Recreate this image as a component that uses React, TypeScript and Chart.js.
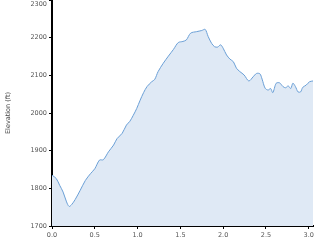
import React, { useEffect, useRef } from "react";
import { Chart, registerables } from "chart.js";

Chart.register(...registerables);

const distance = [
  0.0, 0.05, 0.09, 0.13, 0.17, 0.2, 0.23, 0.27, 0.33, 0.39, 0.45, 0.5, 0.555, 0.6, 0.66, 0.72, 0.76, 0.82, 0.87, 0.91,
  0.95, 0.99, 1.03, 1.07, 1.11, 1.165, 1.2, 1.24, 1.3, 1.36, 1.42, 1.475, 1.53, 1.57, 1.62, 1.69, 1.75, 1.79, 1.825,
  1.865, 1.9, 1.935, 1.97, 2.0, 2.04, 2.08, 2.12, 2.155, 2.195, 2.245, 2.3, 2.35, 2.39, 2.43, 2.455, 2.49, 2.525, 2.555,
  2.58, 2.62, 2.66, 2.7, 2.73, 2.76, 2.79, 2.815, 2.845, 2.875, 2.905, 2.93, 2.97, 3.01, 3.05,
];
const elevation = [
  1835, 1826, 1808, 1790, 1764, 1752, 1757, 1770, 1795, 1821, 1839, 1852, 1875, 1876, 1897, 1915, 1932, 1946, 1968, 1978,
  1994, 2012, 2034, 2054, 2070, 2083, 2089, 2110, 2132, 2151, 2169, 2187, 2190, 2194, 2212, 2216, 2219, 2222, 2203,
  2185, 2176, 2175, 2181, 2172, 2154, 2143, 2136, 2119, 2110, 2101, 2085, 2096, 2105, 2104, 2090, 2066, 2061, 2065,
  2054, 2079, 2080, 2070, 2067, 2072, 2065, 2079, 2070, 2056, 2056, 2068, 2074, 2083, 2085,
];
const xTicks = [0, 0.5, 1, 1.5, 2, 2.5, 3];
const yTicks = [1700, 1800, 1900, 2000, 2100, 2200, 2300];
const yTitle = "Elevation (ft)";

const FONT = { family: "DejaVu Sans", size: 6.5 };
const TICK_COLOR = "#555";

// The top tick label sits just inside the canvas (like the reference), drawn by a tiny plugin.
const topLabelPlugin = {
  id: "topLabel",
  afterDraw(chart: any) {
    const y = chart.scales.y;
    const top = yTicks[yTicks.length - 1];
    const ctx = chart.ctx;
    ctx.save();
    ctx.font = `${FONT.size}px "${FONT.family}"`;
    ctx.fillStyle = TICK_COLOR;
    ctx.textAlign = "right";
    ctx.textBaseline = "middle";
    const py = Math.max(y.getPixelForValue(top), FONT.size / 2 + 1.5);
    ctx.fillText(String(top), y.right - 5, py);
    ctx.restore();
  },
};

export default function App() {
  const ref = useRef<HTMLCanvasElement | null>(null);
  useEffect(() => {
    if (!ref.current) return;
    const chart = new Chart(ref.current, {
      type: "line",
      data: {
        datasets: [
          {
            data: distance.map((d, i) => ({ x: d, y: elevation[i] })),
            borderColor: "#6a9fd6",
            borderWidth: 1,
            backgroundColor: "#dfe9f5",
            fill: "start",
            pointRadius: 0,
            tension: 0.3,
          },
        ],
      },
      plugins: [topLabelPlugin],
      options: {
        animation: false,
        responsive: false,
        maintainAspectRatio: false,
        layout: { padding: { right: 7, top: 0 } },
        plugins: { legend: { display: false }, tooltip: { enabled: false } },
        scales: {
          x: {
            type: "linear",
            min: 0,
            max: 3.05,
            afterBuildTicks: (s: any) => {
              s.ticks = xTicks.map((v) => ({ value: v }));
            },
            ticks: {
              font: FONT,
              color: TICK_COLOR,
              padding: 2,
              callback: (v: any) => Number(v).toFixed(1),
            },
            grid: { drawOnChartArea: false, drawTicks: true, tickLength: 3, color: "#000", lineWidth: 1 },
            border: { color: "#000", width: 2 },
            afterFit: (s: any) => {
              s.height = 16;
              s.paddingTop = 0;
            },
          },
          y: {
            min: 1700,
            max: 2300,
            afterBuildTicks: (s: any) => {
              s.ticks = yTicks.map((v) => ({ value: v }));
            },
            ticks: {
              font: FONT,
              color: TICK_COLOR,
              padding: 2,
              callback: (v: any) => (Number(v) === yTicks[yTicks.length - 1] ? "" : String(v)),
            },
            grid: { drawOnChartArea: false, drawTicks: true, tickLength: 3, color: "#000", lineWidth: 1 },
            border: { color: "#000", width: 2 },
            title: { display: true, text: yTitle, font: FONT, color: "#444", padding: { top: 4, bottom: 0 } },
            afterFit: (s: any) => {
              s.width = 52;
              s.paddingTop = 0;
            },
          },
        },
      },
    });
    return () => chart.destroy();
  }, []);
  return (
    <div style={{ position: "fixed", left: 0, top: 0, width: 320, height: 242, background: "#fff" }}>
      <canvas ref={ref} width={320} height={242} style={{ width: 320, height: 242 }} />
    </div>
  );
}
